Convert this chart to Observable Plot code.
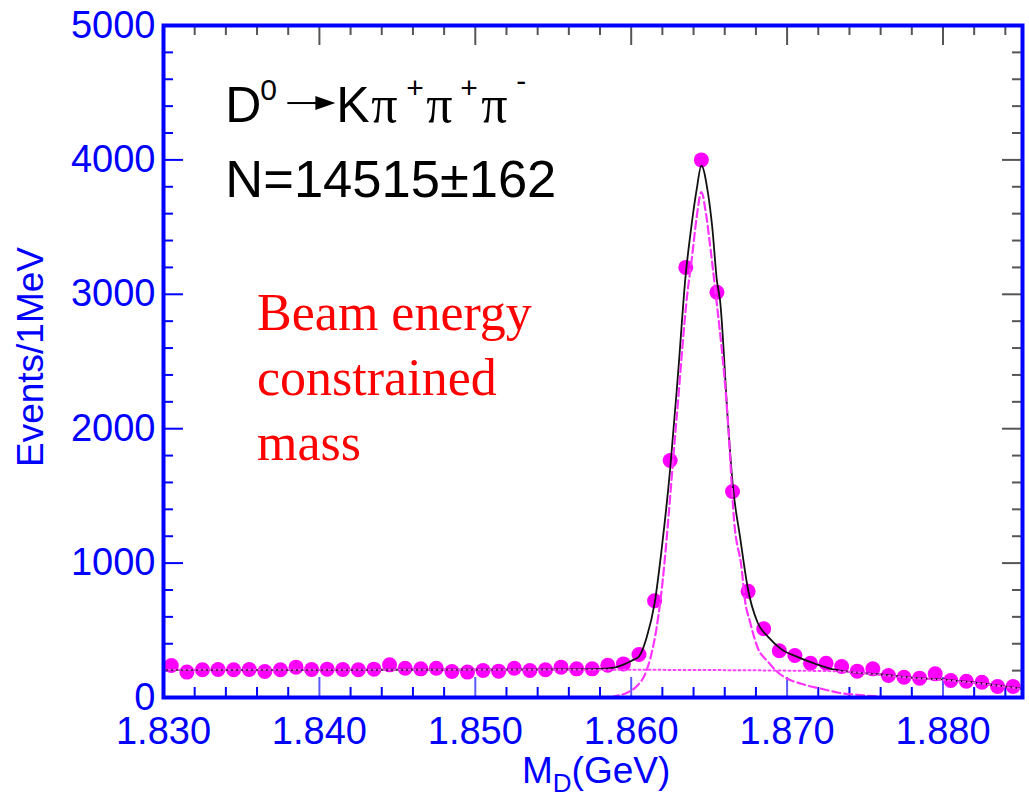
<!DOCTYPE html>
<html><head><meta charset="utf-8">
<script src="https://cdn.jsdelivr.net/npm/d3@7"></script>
<script src="https://cdn.jsdelivr.net/npm/@observablehq/plot@0.6"></script>
<style>body{margin:0;background:#fff}</style>
</head><body><div id="chart"></div>
<script>
// ---- Data ----
const massBins = [1.8305,1.8315,1.8325,1.8335,1.8345,1.8355,1.8365,1.8375,1.8385,1.8395,
  1.8405,1.8415,1.8425,1.8435,1.8445,1.8455,1.8465,1.8475,1.8485,1.8495,
  1.8505,1.8515,1.8525,1.8535,1.8545,1.8555,1.8565,1.8575,1.8585,1.8595,
  1.8605,1.8615,1.8625,1.8635,1.8645,1.8655,1.8665,1.8675,1.8685,1.8695,
  1.8705,1.8715,1.8725,1.8735,1.8745,1.8755,1.8765,1.8775,1.8785,1.8795,
  1.8805,1.8815,1.8825,1.8835,1.8845];
const counts = [238,189,206,208,206,208,193,206,226,208,
  211,208,206,211,243,218,213,218,193,189,
  201,196,218,201,206,226,213,213,240,250,
  320,720,1763,3200,4000,3015,1533,790,511,348,
  313,255,255,231,196,213,164,151,144,176,
  126,121,114,82,82];

// total fit (solid black)
const totalFitMass  = [1.8300,1.8400,1.8500,1.8560,1.8580,1.8590,1.8595,1.8600,1.8605,1.8610,1.8615,1.8620,1.8625,1.8630,1.8635,1.8638,1.8642,1.8645,1.8649,1.8652,1.8655,1.8657,1.8662,1.8665,1.8670,1.8675,1.8681,1.8688,1.8696,1.8707,1.8718,1.8728,1.8739,1.8760,1.8782,1.8803,1.8824,1.8846,1.8851];
const totalFitValue = [205,206,207,209,213,225,245,272,305,450,700,1150,1700,2400,3150,3450,3780,3958,3772,3499,3100,2954,2061,1600,1180,800,560,449,362,300,251,213,193,171,146,131,106,72,65];

// signal component (dashed magenta)
const signalMass  = [1.8587,1.8589,1.8598,1.8604,1.8609,1.8613,1.8616,1.8619,1.8629,1.8636,1.8639,1.8642,1.8645,1.8648,1.8651,1.8654,1.8662,1.8666,1.8671,1.8673,1.8676,1.8681,1.8688,1.8694,1.8700,1.8709,1.8722,1.8735,1.8745,1.8758,1.8767];
const signalValue = [0,7,39,89,176,325,498,746,2061,3004,3276,3574,3760,3598,3326,3028,2061,1317,945,722,573,374,263,188,141,102,65,32,20,7,0];

// background component (dotted magenta)
const bgMass  = [1.8300,1.8450,1.8600,1.8700,1.8735,1.8760,1.8782,1.8803,1.8824,1.8846,1.8851];
const bgValue = [207,207,206,200,194,168,144,128,104,70,63];

const xMajorTicks = [1.830,1.840,1.850,1.860,1.870,1.880];
const xMinorTicks = [1.832,1.834,1.836,1.838,1.842,1.844,1.846,1.848,1.852,1.854,1.856,1.858,
  1.862,1.864,1.866,1.868,1.872,1.874,1.876,1.878,1.882,1.884];
const yMajorTicks = [0,1000,2000,3000,4000,5000];
const yMinorTicks = [200,400,600,800,1200,1400,1600,1800,2200,2400,2600,2800,
  3200,3400,3600,3800,4200,4400,4600,4800];

const noteLines = ["Beam energy","constrained","mass"];

// ---- Build ----
const points = massBins.map((m,i)=>({m, n: counts[i]}));
const total  = totalFitMass.map((m,i)=>({m, v: totalFitValue[i]}));
const signal = signalMass.map((m,i)=>({m, v: signalValue[i]}));
const bg     = bgMass.map((m,i)=>({m, v: bgValue[i]}));

const W = 1029, H = 795, ML = 163, MR = 7, MT = 25, MB = 98;
const xDom = [1.830, 1.8851], yDom = [0, 5000];
const unitY = (yDom[1]-yDom[0])/(H-MT-MB);   // data units per px
const unitX = (xDom[1]-xDom[0])/(W-ML-MR);
const majL = 20, minL = 10;

const blue = "#0000ff";
const tickBottom = "#5a5aff";
const tickTop = "#555555";

const plot = Plot.plot({
  width: W, height: H,
  marginLeft: ML, marginRight: MR, marginTop: MT, marginBottom: MB,
  x: {domain: xDom},
  y: {domain: yDom},
  style: {fontFamily: "Liberation Sans", background: "#fff", overflow: "visible"},
  marks: [
    // ticks (inward)
    Plot.ruleX(xMajorTicks, {x: d=>d, y1: yDom[0], y2: yDom[0]+majL*unitY, stroke: tickBottom, strokeWidth: 2}),
    Plot.ruleX(xMinorTicks, {x: d=>d, y1: yDom[0], y2: yDom[0]+minL*unitY, stroke: blue, strokeWidth: 2}),
    Plot.ruleX(xMajorTicks, {x: d=>d, y1: yDom[1], y2: yDom[1]-majL*unitY, stroke: tickTop, strokeWidth: 2}),
    Plot.ruleX(xMinorTicks, {x: d=>d, y1: yDom[1], y2: yDom[1]-minL*unitY, stroke: tickTop, strokeWidth: 2}),
    Plot.ruleY(yMajorTicks, {y: d=>d, x1: xDom[0], x2: xDom[0]+majL*unitX, stroke: blue, strokeWidth: 2}),
    Plot.ruleY(yMinorTicks, {y: d=>d, x1: xDom[0], x2: xDom[0]+minL*unitX, stroke: blue, strokeWidth: 2}),
    Plot.ruleY(yMajorTicks, {y: d=>d, x1: xDom[1], x2: xDom[1]-majL*unitX, stroke: tickTop, strokeWidth: 2}),
    Plot.ruleY(yMinorTicks, {y: d=>d, x1: xDom[1], x2: xDom[1]-minL*unitX, stroke: tickTop, strokeWidth: 2}),
    // axes labels
    Plot.axisX(xMajorTicks, {tickSize: 0, tickPadding: 20, tickFormat: d3.format(".3f"), fontSize: 38, color: blue, label: null}),
    Plot.axisY(yMajorTicks, {tickSize: 0, tickPadding: 8, tickFormat: d3.format("d"), fontSize: 38, color: blue, label: null}),
    // data
    Plot.dot(points, {x: "m", y: "n", r: 7.5, fill: "#ff00ff", stroke: "none"}),
    Plot.line(total, {x: "m", y: "v", stroke: "#111", strokeWidth: 1.8, curve: "monotone-x"}),
    Plot.line(signal, {x: "m", y: "v", stroke: "#ff33ff", strokeWidth: 2.2, strokeDasharray: "8,4", curve: "monotone-x"}),
    Plot.line(bg, {x: "m", y: "v", stroke: "#ff44ff", strokeWidth: 2, strokeDasharray: "2,3", curve: "monotone-x"}),
    // red note
    Plot.text([noteLines.join("\n")], {x: ()=>1.8360, y: ()=>3080, text: d=>d, textAnchor: "start", lineAnchor: "top",
      lineHeight: 1.25, fontSize: 52, fontFamily: "Liberation Serif", fill: "#ff0000"}),
    Plot.frame({stroke: blue, strokeWidth: 4})
  ]
});
document.getElementById("chart").appendChild(plot);

// ---- Formula annotations and axis titles (text with sub/superscripts) ----
const sx = plot.scale("x"), sy = plot.scale("y");
const svg = d3.select(plot);
const fx = sx.apply(1.8340), b1 = sy.apply(4278), b2 = sy.apply(3720);
const g = svg.append("g").attr("font-family", "Liberation Sans").attr("fill", "#000").attr("text-anchor", "start");
const t = (x, y, size, str, fam) => g.append("text").attr("x", x).attr("y", y).attr("font-size", size)
  .attr("font-family", fam || null).attr("text-anchor", "start").text(str);
t(fx, b1, 50, "D");
t(fx+35, b1-22, 30, "0");
g.append("line").attr("x1", fx+62).attr("x2", fx+92).attr("y1", b1-19).attr("y2", b1-19).attr("stroke", "#000").attr("stroke-width", 2);
g.append("path").attr("d", `M${fx+90},${b1-26}L${fx+110},${b1-19}L${fx+90},${b1-12}Z`);
t(fx+111, b1, 50, "K");
t(fx+146, b1, 52, "π", "Liberation Serif");
t(fx+181, b1-24, 30, "+");
t(fx+201, b1, 52, "π", "Liberation Serif");
t(fx+235, b1-24, 30, "+");
t(fx+256, b1, 52, "π", "Liberation Serif");
t(fx+291, b1-31, 30, "-");
t(fx, b2, 52.5, "N=14515±162");

// axis titles
const xt = svg.append("text").attr("x", 522).attr("y", 783).attr("font-size", 37).attr("text-anchor", "start")
  .attr("fill", blue).attr("font-family", "Liberation Sans");
xt.append("tspan").text("M");
xt.append("tspan").attr("font-size", 26).attr("dy", 9).text("D");
xt.append("tspan").attr("dy", -9).text("(GeV)");
svg.append("text").attr("transform", "translate(43,357) rotate(-90)").attr("text-anchor", "middle")
  .attr("font-size", 37).attr("fill", blue).attr("font-family", "Liberation Sans").text("Events/1MeV");
</script>
</body></html>
